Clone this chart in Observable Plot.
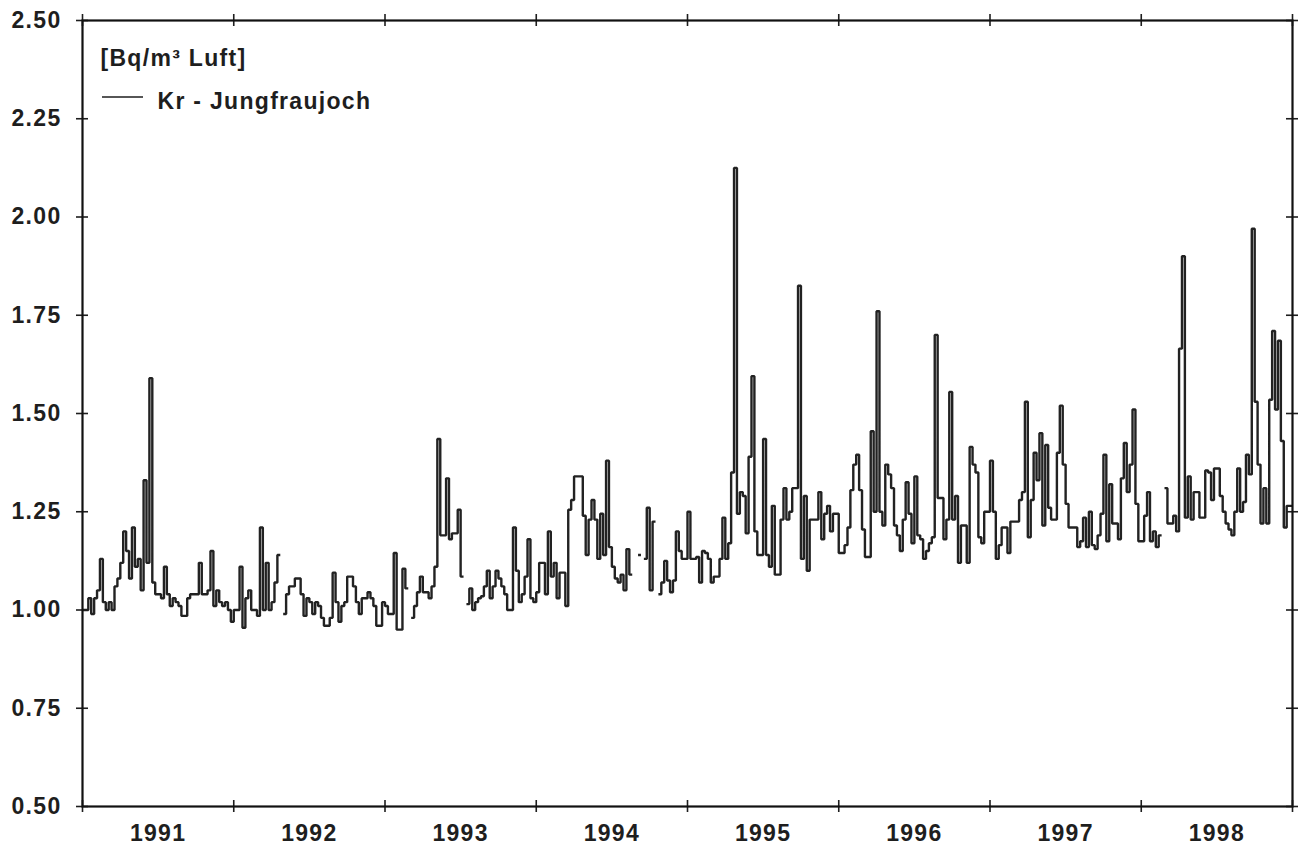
<!DOCTYPE html>
<html><head><meta charset="utf-8">
<script src="https://cdn.jsdelivr.net/npm/d3@7"></script>
<script src="https://cdn.jsdelivr.net/npm/@observablehq/plot@0.6"></script>
<style>
body{margin:0;background:#fff}
#chart svg text{letter-spacing:1.3px}
</style>
</head><body><div id="chart"></div>
<script>
// Kr-85 activity at Jungfraujoch, weekly values [Bq/m³ Luft], 52 weeks per year (null = no measurement)
const years = [1991, 1992, 1993, 1994, 1995, 1996, 1997, 1998];
const kr1991 = [1.00,1.00,1.03,0.99,1.03,1.05,1.13,1.02,1.00,1.02,1.00,1.06,1.08,1.12,1.20,1.15,1.08,1.21,1.11,1.13,1.05,1.33,1.12,1.59,1.07,1.04,1.04,1.03,1.11,1.04,1.01,1.03,1.02,1.01,0.985,0.985,1.03,1.04,1.04,1.04,1.12,1.04,1.04,1.05,1.15,1.01,1.05,1.02,1.01,1.02,1.00,0.97];
const kr1992 = [1.00,1.00,1.11,0.955,1.03,1.05,1.00,1.00,0.985,1.21,1.00,1.12,1.00,1.02,1.07,1.14,null,0.99,1.04,1.06,1.06,1.08,1.08,1.04,0.985,1.03,1.02,0.99,1.02,1.01,0.98,0.96,0.96,0.98,1.095,1.02,0.97,1.01,1.02,1.085,1.085,1.06,1.02,0.99,1.03,1.03,1.045,1.03,1.01,0.96,0.96,1.02];
const kr1993 = [1.01,0.99,0.99,1.145,0.95,0.95,1.105,1.055,null,0.98,1.01,1.045,1.085,1.045,1.045,1.03,1.06,1.11,1.435,1.19,1.19,1.335,1.18,1.195,1.195,1.255,1.085,null,1.015,1.055,1.00,1.02,1.03,1.035,1.06,1.10,1.03,1.06,1.10,1.08,1.06,1.04,1.00,1.00,1.21,1.10,1.02,1.04,1.085,1.18,1.03,1.02];
const kr1994 = [1.045,1.12,1.12,1.04,1.20,1.085,1.12,1.03,1.095,1.095,1.01,1.255,1.28,1.34,1.34,1.34,1.24,1.14,1.23,1.28,1.23,1.13,1.245,1.14,1.38,1.16,1.11,1.08,1.07,1.09,1.05,1.155,1.09,null,null,1.14,null,1.13,1.26,1.05,1.225,null,1.04,1.07,1.125,1.075,1.045,1.075,1.20,1.15,1.13,1.13];
const kr1995 = [1.25,1.13,1.13,1.135,1.07,1.15,1.145,1.13,1.07,1.085,1.085,1.13,1.235,1.13,1.17,1.35,2.125,1.245,1.30,1.29,1.195,1.39,1.595,1.20,1.14,1.14,1.435,1.14,1.11,1.265,1.09,1.09,1.23,1.31,1.23,1.25,1.31,1.31,1.825,1.13,1.29,1.10,1.23,1.23,1.23,1.30,1.18,1.245,1.265,1.20,1.245,1.245];
const kr1996 = [1.145,1.145,1.165,1.21,1.305,1.37,1.395,1.305,1.205,1.135,1.135,1.455,1.25,1.76,1.25,1.215,1.37,1.345,1.31,1.215,1.19,1.15,1.23,1.325,1.245,1.17,1.34,1.19,1.18,1.13,1.15,1.17,1.185,1.70,1.285,1.285,1.18,1.23,1.555,1.23,1.29,1.12,1.215,1.215,1.12,1.415,1.37,1.35,1.185,1.17,1.25,1.25];
const kr1997 = [1.38,1.25,1.13,1.165,1.21,1.21,1.145,1.225,1.225,1.225,1.28,1.30,1.53,1.185,1.28,1.40,1.33,1.45,1.215,1.42,1.26,1.23,1.23,1.40,1.52,1.37,1.27,1.21,1.21,1.21,1.16,1.175,1.235,1.16,1.25,1.165,1.155,1.19,1.245,1.395,1.175,1.32,1.22,1.22,1.18,1.335,1.425,1.30,1.37,1.51,1.27,1.175];
const kr1998 = [1.175,1.24,1.30,1.175,1.20,1.16,1.19,null,1.31,1.22,1.22,1.24,1.20,1.665,1.90,1.235,1.34,1.23,1.30,1.30,1.235,1.235,1.355,1.35,1.28,1.36,1.36,1.29,1.25,1.22,1.205,1.19,1.25,1.36,1.25,1.275,1.395,1.345,1.97,1.53,1.37,1.22,1.31,1.22,1.535,1.71,1.51,1.685,1.43,1.21,1.265,1.265];
const yTicks = [0.50, 0.75, 1.00, 1.25, 1.50, 1.75, 2.00, 2.25, 2.50];
const unitLabel = "[Bq/m³ Luft]";
const seriesLabel = "Kr - Jungfraujoch";

const weekly = [kr1991, kr1992, kr1993, kr1994, kr1995, kr1996, kr1997, kr1998];
const rows = [];
years.forEach((yr, k) => {
  const vals = weekly[k];
  const n = vals.length;
  vals.forEach((v, i) => {
    if (v == null) { rows.push({t: yr + (i + 0.5) / n, v: NaN}); return; }
    rows.push({t: yr + i / n, v});
    rows.push({t: yr + (i + 1) / n, v});
  });
});
const yearEdges = years.concat([years[years.length - 1] + 1]);
const x0 = years[0], x1 = yearEdges[yearEdges.length - 1];
const yLo = yTicks[0], yHi = yTicks[yTicks.length - 1];

const ink = "#1e1e1e";
const fs = 23;
const chart = Plot.plot({
  width: 1298, height: 851,
  marginLeft: 82, marginRight: 6, marginTop: 20, marginBottom: 45,
  style: {fontFamily: "'Liberation Sans', Arial, Helvetica, sans-serif", fontSize: fs + "px", fontWeight: "bold", color: ink, background: "#fff", overflow: "visible"},
  x: {domain: [x0, x1], axis: null, label: null},
  y: {domain: [yLo, yHi], axis: null, label: null},
  marks: [
    Plot.axisY(yTicks, {anchor: "left", label: null, tickSize: 0, tickPadding: 21, tickFormat: d3.format(".2f"), fontSize: fs, fontWeight: "bold"}),
    Plot.axisX(years.map(y => y + 0.5), {anchor: "bottom", label: null, tickSize: 0, tickPadding: 18, tickFormat: d => String(Math.floor(d)), fontSize: fs, fontWeight: "bold"}),
    // tick crosses on all four sides of the frame
    Plot.ruleY(yTicks, {y: d => d, x1: () => x0, x2: () => x0, insetLeft: -6, insetRight: -6, stroke: ink, strokeWidth: 1.6}),
    Plot.ruleY(yTicks, {y: d => d, x1: () => x1, x2: () => x1, insetLeft: -6, insetRight: -6, stroke: ink, strokeWidth: 1.6}),
    Plot.ruleX(yearEdges, {x: d => d, y1: () => yLo, y2: () => yLo, insetTop: -6, insetBottom: -6, stroke: ink, strokeWidth: 1.6}),
    Plot.ruleX(yearEdges, {x: d => d, y1: () => yHi, y2: () => yHi, insetTop: -6, insetBottom: -6, stroke: ink, strokeWidth: 1.6}),
    Plot.line(rows, {x: "t", y: "v", stroke: "#222", strokeWidth: 2.4, strokeLinejoin: "miter", strokeLinecap: "butt"}),
    Plot.frame({stroke: "#111", strokeWidth: 2.2}),
    Plot.text([unitLabel], {frameAnchor: "top-left", dx: 18, dy: 45, textAnchor: "start", lineAnchor: "bottom", fontSize: fs, fontWeight: "bold", fill: ink}),
    Plot.text([seriesLabel], {frameAnchor: "top-left", dx: 75, dy: 88, textAnchor: "start", lineAnchor: "bottom", fontSize: fs, fontWeight: "bold", fill: ink})
  ]
});
// legend line sample
d3.select(chart).append("line")
  .attr("x1", 102).attr("x2", 143).attr("y1", 97).attr("y2", 97)
  .attr("stroke", ink).attr("stroke-width", 1.5);
document.getElementById("chart").appendChild(chart);
</script>
</body></html>
